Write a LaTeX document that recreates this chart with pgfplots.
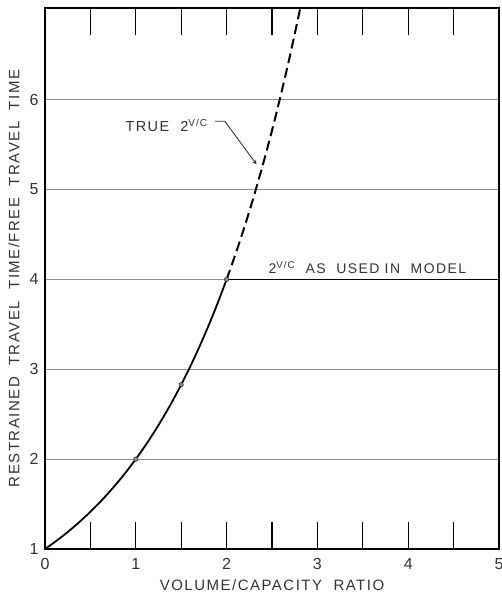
\documentclass[border=0pt]{standalone}
\usepackage{fontspec}
\setmainfont{Liberation Sans}
\newfontfamily\lbl[LetterSpace=10]{Liberation Sans}
\newfontfamily\tk{Liberation Sans}
\usepackage{pgfplots}
\pgfplotsset{compat=1.18}
\definecolor{ink}{HTML}{333333}
\definecolor{gridc}{HTML}{8C8C8C}
\begin{document}
\begin{tikzpicture}
\begin{axis}[
  scale only axis,
  width=454pt, height=541pt,
  xmin=0, xmax=5, ymin=1, ymax=7.02,
  axis line style={black, line width=1.3pt},
  xtick={0,0.5,...,5},
  xticklabels={0,,1,,2,,3,,4,,5},
  xtick pos=both,
  tick align=inside,
  major tick length=27pt,
  x tick style={black, line width=1.2pt},
  ytick={1,2,3,4,5,6},
  y tick style={draw=none},
  ytick pos=left,
  ymajorgrids,
  grid style={gridc, line width=0.9pt},
  /pgf/number format/assume math mode=true,
  tick label style={font=\fontsize{16}{16}\tk, text=ink},
  xticklabel style={yshift=-6pt},
  yticklabel style={xshift=-3pt},
  xlabel={VOLUME/CAPACITY\ \ RATIO},
  ylabel={RESTRAINED\ \ TRAVEL\ \ TIME/FREE\ \ TRAVEL\ \ TIME},
  label style={font=\fontsize{15}{15}\lbl, text=ink},
  xlabel style={at={(axis description cs:0.5,-0.066)}, anchor=center},
  ylabel style={at={(axis description cs:-0.068,0.5)}, anchor=center},
  clip=false,
]
% solid part of 2^(v/c)
\addplot[black, line width=1.8pt, smooth] coordinates {
 (0,1) (0.1,1.0718) (0.2,1.1487) (0.3,1.2311) (0.4,1.3195) (0.5,1.4142)
 (0.6,1.5157) (0.7,1.6245) (0.8,1.7411) (0.9,1.8661) (1.0,2) (1.1,2.1435)
 (1.2,2.2974) (1.3,2.4623) (1.4,2.6390) (1.5,2.8284) (1.6,3.0314)
 (1.7,3.2490) (1.8,3.4822) (1.9,3.7321) (2.0,4)};
% dashed part (true curve)
\addplot[black, line width=2pt, smooth, dash pattern=on 10pt off 5pt] coordinates {
 (2.0,4) (2.1,4.2871) (2.2,4.5948) (2.3,4.9246) (2.4,5.2780) (2.5,5.6569)
 (2.6,6.0629) (2.7,6.4980) (2.8,6.9644) (2.807,7.0)};
% as used in model
\addplot[black, line width=1.6pt] coordinates {(2,4) (5,4)};
% points
\addplot[only marks, mark=*, mark size=2.2pt, mark options={fill=gridc, draw=ink, line width=0.6pt}] coordinates {(1,2) (1.5,2.8284) (2,4)};
% annotations
\node[font=\fontsize{14.5}{14.5}\lbl, text=ink] at (axis cs:1.34,5.71) {TRUE\ \ 2\textsuperscript{V/C}};
\draw[ink, line width=0.9pt, ->, >=stealth] (axis cs:1.87,5.76) -- (axis cs:1.98,5.76) -- (axis cs:2.33,5.28);
\node[font=\fontsize{14}{14}\lbl, text=ink, anchor=south] at (axis cs:3.55,4.02) {2\textsuperscript{V/C}\ \ AS\ \ USED\ IN\ \ MODEL};
\end{axis}
\pgfresetboundingbox
\path (-45pt,-45pt) rectangle (457pt,549pt);
\end{tikzpicture}
\end{document}
